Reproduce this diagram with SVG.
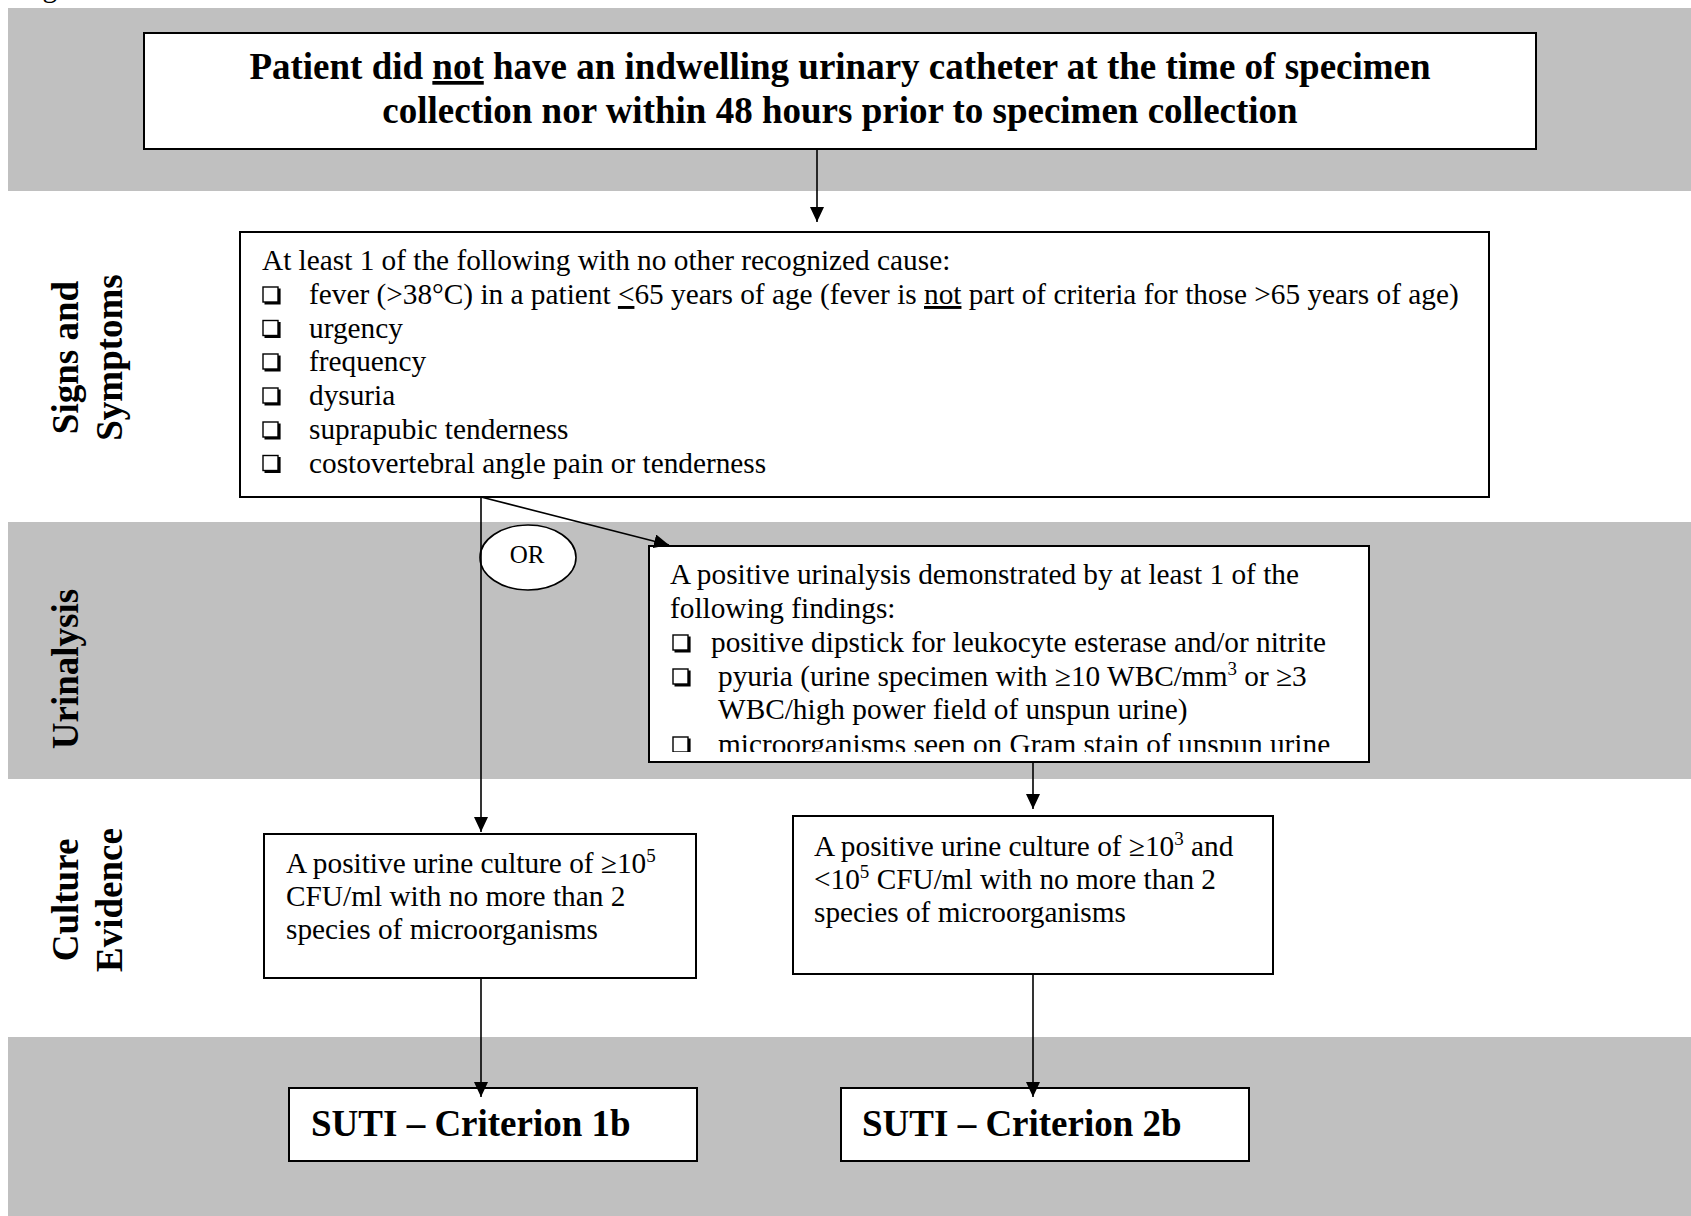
<svg xmlns="http://www.w3.org/2000/svg" xmlns:xlink="http://www.w3.org/1999/xlink" width="1691" height="1216" viewBox="0 0 1691 1216">
<style>
.band{fill:#c0c0c0}
.box{fill:#fff;stroke:#000;stroke-width:2}
.t{font-family:"Liberation Serif","Times New Roman",serif;font-size:29.3px;fill:#000}
.b{font-family:"Liberation Serif","Times New Roman",serif;font-size:37px;font-weight:bold;fill:#000}
.con{fill:none;stroke:#000;stroke-width:1.6}
</style>
<defs>
<marker id="ah" markerUnits="userSpaceOnUse" markerWidth="16" markerHeight="14" refX="15" refY="7" orient="auto">
<path d="M0,0 L15,7 L0,14 z" fill="#000"/>
</marker>
<g id="cb">
<rect x="0" y="0" width="15" height="15" fill="#fff" stroke="#000" stroke-width="1.4"/>
<path d="M1.5,16.3 H16.3 V1.5" fill="none" stroke="#000" stroke-width="2.6"/>
</g>
<clipPath id="uclip"><rect x="649" y="546" width="720" height="206"/></clipPath>
</defs>

<text class="t" x="18" y="-3">Figure 3.</text>

<g id="bands">
<rect class="band" x="8" y="8" width="1683" height="183"/>
<rect class="band" x="8" y="522" width="1683" height="257"/>
<rect class="band" x="8" y="1037" width="1683" height="179"/>
</g>

<g id="lane-labels">
<text class="b" text-anchor="middle" transform="translate(78,357.5) rotate(-90)">Signs and</text>
<text class="b" text-anchor="middle" transform="translate(122,357.5) rotate(-90)">Symptoms</text>
<text class="b" text-anchor="middle" transform="translate(78,669) rotate(-90)">Urinalysis</text>
<text class="b" text-anchor="middle" transform="translate(78,900) rotate(-90)">Culture</text>
<text class="b" text-anchor="middle" transform="translate(122,900) rotate(-90)">Evidence</text>
</g>

<g id="n-start">
<rect class="box" x="144" y="33" width="1392" height="116"/>
<text class="b" text-anchor="middle" x="840" y="79">Patient did <tspan text-decoration="underline">not</tspan> have an indwelling urinary catheter at the time of specimen</text>
<text class="b" text-anchor="middle" x="840" y="123">collection nor within 48 hours prior to specimen collection</text>
</g>

<g id="n-signs">
<rect class="box" x="240" y="232" width="1249" height="265"/>
<text class="t" x="262" y="270">At least 1 of the following with no other recognized cause:</text>
<use xlink:href="#cb" x="263" y="287"/>
<text class="t" x="309" y="304">fever (&gt;38°C) in a patient <tspan text-decoration="underline">&lt;</tspan>65 years of age (fever is <tspan text-decoration="underline">not</tspan> part of criteria for those &gt;65 years of age)</text>
<use xlink:href="#cb" x="263" y="320.5"/>
<text class="t" x="309" y="337.5">urgency</text>
<use xlink:href="#cb" x="263" y="354"/>
<text class="t" x="309" y="371">frequency</text>
<use xlink:href="#cb" x="263" y="388"/>
<text class="t" x="309" y="405">dysuria</text>
<use xlink:href="#cb" x="263" y="422"/>
<text class="t" x="309" y="439">suprapubic tenderness</text>
<use xlink:href="#cb" x="263" y="455.5"/>
<text class="t" x="309" y="472.5">costovertebral angle pain or tenderness</text>
</g>

<g id="n-or">
<ellipse cx="528" cy="557.5" rx="48" ry="32.5" fill="#fff" stroke="#000" stroke-width="1.6"/>
<text class="t" style="font-size:25px" text-anchor="middle" x="527" y="563">OR</text>
</g>

<g id="n-urinalysis">
<rect class="box" x="649" y="546" width="720" height="216"/>
<g clip-path="url(#uclip)">
<text class="t" x="670" y="584">A positive urinalysis demonstrated by at least 1 of the</text>
<text class="t" x="670" y="618">following findings:</text>
<use xlink:href="#cb" x="673" y="635"/>
<text class="t" x="711" y="651.5">positive dipstick for leukocyte esterase and/or nitrite</text>
<use xlink:href="#cb" x="673" y="669"/>
<text class="t" x="718" y="685.5">pyuria (urine specimen with ≥10 WBC/mm<tspan font-size="19" dy="-11">3</tspan><tspan dy="11"> or ≥3</tspan></text>
<text class="t" x="718" y="719">WBC/high power field of unspun urine)</text>
<use xlink:href="#cb" x="673" y="737"/>
<text class="t" x="718" y="753.5">microorganisms seen on Gram stain of unspun urine</text>
</g>
</g>

<g id="n-culture1">
<rect class="box" x="264" y="834" width="432" height="144"/>
<text class="t" x="286" y="873">A positive urine culture of ≥10<tspan font-size="19" dy="-11">5</tspan></text>
<text class="t" x="286" y="906">CFU/ml with no more than 2</text>
<text class="t" x="286" y="939">species of microorganisms</text>
</g>

<g id="n-culture2">
<rect class="box" x="793" y="816" width="480" height="158"/>
<text class="t" x="814" y="856">A positive urine culture of ≥10<tspan font-size="19" dy="-11">3</tspan><tspan dy="11"> and</tspan></text>
<text class="t" x="814" y="889">&lt;10<tspan font-size="19" dy="-11">5</tspan><tspan dy="11"> CFU/ml with no more than 2</tspan></text>
<text class="t" x="814" y="922">species of microorganisms</text>
</g>

<g id="n-suti1">
<rect class="box" x="289" y="1088" width="408" height="73"/>
<text class="b" x="311" y="1136">SUTI – Criterion 1b</text>
</g>

<g id="n-suti2">
<rect class="box" x="841" y="1088" width="408" height="73"/>
<text class="b" x="862" y="1136">SUTI – Criterion 2b</text>
</g>

<g id="connectors">
<line class="con" x1="817" y1="149" x2="817" y2="222" marker-end="url(#ah)"/>
<line class="con" x1="481" y1="497" x2="481" y2="832" marker-end="url(#ah)"/>
<line class="con" x1="481" y1="497" x2="669" y2="545" marker-end="url(#ah)"/>
<line class="con" x1="1033" y1="762" x2="1033" y2="809" marker-end="url(#ah)"/>
<line class="con" x1="481" y1="978" x2="481" y2="1097" marker-end="url(#ah)"/>
<line class="con" x1="1033" y1="974" x2="1033" y2="1097" marker-end="url(#ah)"/>
</g>
</svg>
